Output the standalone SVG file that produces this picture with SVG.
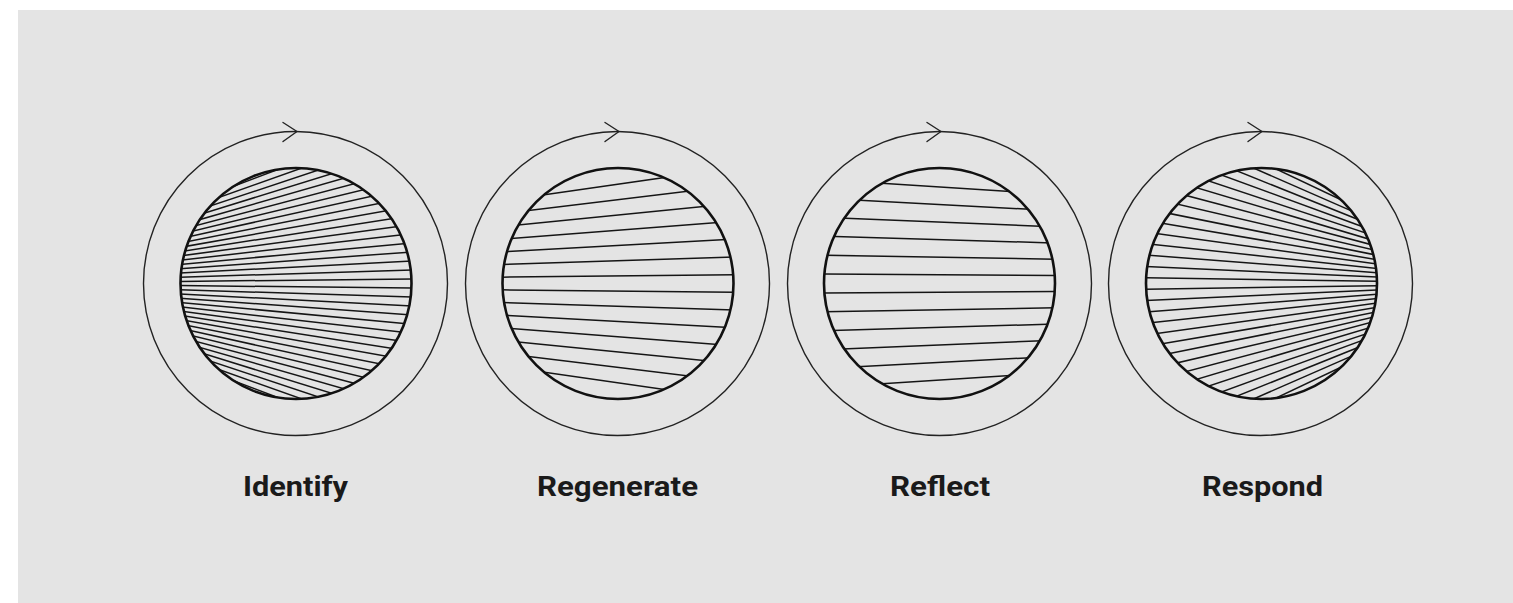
<svg xmlns="http://www.w3.org/2000/svg" width="1513" height="603" viewBox="0 0 1513 603">
<style>
.hatch{stroke:#151515;stroke-width:1.5;fill:none}
.inner{stroke:#111;stroke-width:2.6;fill:none}
.outer{stroke:#222;stroke-width:1.4;fill:none}
.arrow{stroke:#222;stroke-width:1.4;fill:none;stroke-linecap:round;stroke-linejoin:round}
.label{font-family:Roboto,"Liberation Sans",sans-serif;font-weight:bold;font-size:28px;fill:#1a1a1a;text-anchor:middle}
</style>
<defs>
<clipPath id="c1"><circle cx="296" cy="283.5" r="115.5"/></clipPath>
<clipPath id="c2"><circle cx="618" cy="283.5" r="115.5"/></clipPath>
<clipPath id="c3"><circle cx="939.5" cy="283.5" r="115.5"/></clipPath>
<clipPath id="c4"><circle cx="1261.5" cy="283.5" r="115.5"/></clipPath>
<path id="hR1" d="M0 0H460"/>
<path id="hR2" d="M0 0H830"/>
<path id="hL3" d="M0 0H-1650"/>
<path id="hL4" d="M0 0H-400"/>
</defs>
<rect x="18" y="10" width="1495" height="593" fill="#e4e4e4"/>

<g id="node-identify">
<circle class="outer" cx="295.5" cy="283.5" r="152"/>
<path class="arrow" d="M283 122.5L297 131.5L283 141.5"/>
<g clip-path="url(#c1)">
<g class="hatch" transform="translate(-23 283.5)">
<use href="#hR1" transform="rotate(0.593)"/><use href="#hR1" transform="rotate(-0.593)"/>
<use href="#hR1" transform="rotate(1.779)"/><use href="#hR1" transform="rotate(-1.779)"/>
<use href="#hR1" transform="rotate(2.965)"/><use href="#hR1" transform="rotate(-2.965)"/>
<use href="#hR1" transform="rotate(4.151)"/><use href="#hR1" transform="rotate(-4.151)"/>
<use href="#hR1" transform="rotate(5.337)"/><use href="#hR1" transform="rotate(-5.337)"/>
<use href="#hR1" transform="rotate(6.523)"/><use href="#hR1" transform="rotate(-6.523)"/>
<use href="#hR1" transform="rotate(7.709)"/><use href="#hR1" transform="rotate(-7.709)"/>
<use href="#hR1" transform="rotate(8.895)"/><use href="#hR1" transform="rotate(-8.895)"/>
<use href="#hR1" transform="rotate(10.081)"/><use href="#hR1" transform="rotate(-10.081)"/>
<use href="#hR1" transform="rotate(11.267)"/><use href="#hR1" transform="rotate(-11.267)"/>
<use href="#hR1" transform="rotate(12.453)"/><use href="#hR1" transform="rotate(-12.453)"/>
<use href="#hR1" transform="rotate(13.639)"/><use href="#hR1" transform="rotate(-13.639)"/>
<use href="#hR1" transform="rotate(14.825)"/><use href="#hR1" transform="rotate(-14.825)"/>
<use href="#hR1" transform="rotate(16.011)"/><use href="#hR1" transform="rotate(-16.011)"/>
<use href="#hR1" transform="rotate(17.197)"/><use href="#hR1" transform="rotate(-17.197)"/>
<use href="#hR1" transform="rotate(18.383)"/><use href="#hR1" transform="rotate(-18.383)"/>
<use href="#hR1" transform="rotate(19.569)"/><use href="#hR1" transform="rotate(-19.569)"/>
<use href="#hR1" transform="rotate(20.755)"/><use href="#hR1" transform="rotate(-20.755)"/>
</g>
</g>
<circle class="inner" cx="296" cy="283.5" r="115.5"/>
<text class="label" x="295.5" y="496" textLength="105" lengthAdjust="spacingAndGlyphs">Identify</text>
</g>

<g id="node-regenerate">
<circle class="outer" cx="617.5" cy="283.5" r="152"/>
<path class="arrow" d="M605 122.5L619 131.5L605 141.5"/>
<g clip-path="url(#c2)">
<g class="hatch" transform="translate(-72 283.5)">
<use href="#hR2" transform="rotate(0.63)"/><use href="#hR2" transform="rotate(-0.63)"/>
<use href="#hR2" transform="rotate(1.89)"/><use href="#hR2" transform="rotate(-1.89)"/>
<use href="#hR2" transform="rotate(3.15)"/><use href="#hR2" transform="rotate(-3.15)"/>
<use href="#hR2" transform="rotate(4.41)"/><use href="#hR2" transform="rotate(-4.41)"/>
<use href="#hR2" transform="rotate(5.67)"/><use href="#hR2" transform="rotate(-5.67)"/>
<use href="#hR2" transform="rotate(6.93)"/><use href="#hR2" transform="rotate(-6.93)"/>
<use href="#hR2" transform="rotate(8.19)"/><use href="#hR2" transform="rotate(-8.19)"/>
</g>
</g>
<circle class="inner" cx="618" cy="283.5" r="115.5"/>
<text class="label" x="617.5" y="496" textLength="161" lengthAdjust="spacingAndGlyphs">Regenerate</text>
</g>

<g id="node-reflect">
<circle class="outer" cx="939.5" cy="283.5" r="152"/>
<path class="arrow" d="M927 122.5L941 131.5L927 141.5"/>
<g clip-path="url(#c3)">
<g class="hatch" transform="translate(2439.5 283.5)">
<use href="#hL3" transform="rotate(0.335)"/><use href="#hL3" transform="rotate(-0.335)"/>
<use href="#hL3" transform="rotate(1.005)"/><use href="#hL3" transform="rotate(-1.005)"/>
<use href="#hL3" transform="rotate(1.675)"/><use href="#hL3" transform="rotate(-1.675)"/>
<use href="#hL3" transform="rotate(2.345)"/><use href="#hL3" transform="rotate(-2.345)"/>
<use href="#hL3" transform="rotate(3.015)"/><use href="#hL3" transform="rotate(-3.015)"/>
<use href="#hL3" transform="rotate(3.685)"/><use href="#hL3" transform="rotate(-3.685)"/>
</g>
</g>
<circle class="inner" cx="939.5" cy="283.5" r="115.5"/>
<text class="label" x="940" y="496" textLength="100" lengthAdjust="spacingAndGlyphs">Reflect</text>
</g>

<g id="node-respond">
<circle class="outer" cx="1260.5" cy="283.5" r="152"/>
<path class="arrow" d="M1248 122.5L1262 131.5L1248 141.5"/>
<g clip-path="url(#c4)">
<g class="hatch" transform="translate(1517.5 283.5)">
<use href="#hL4" transform="rotate(0.875)"/><use href="#hL4" transform="rotate(-0.875)"/>
<use href="#hL4" transform="rotate(2.625)"/><use href="#hL4" transform="rotate(-2.625)"/>
<use href="#hL4" transform="rotate(4.375)"/><use href="#hL4" transform="rotate(-4.375)"/>
<use href="#hL4" transform="rotate(6.125)"/><use href="#hL4" transform="rotate(-6.125)"/>
<use href="#hL4" transform="rotate(7.875)"/><use href="#hL4" transform="rotate(-7.875)"/>
<use href="#hL4" transform="rotate(9.625)"/><use href="#hL4" transform="rotate(-9.625)"/>
<use href="#hL4" transform="rotate(11.375)"/><use href="#hL4" transform="rotate(-11.375)"/>
<use href="#hL4" transform="rotate(13.125)"/><use href="#hL4" transform="rotate(-13.125)"/>
<use href="#hL4" transform="rotate(14.875)"/><use href="#hL4" transform="rotate(-14.875)"/>
<use href="#hL4" transform="rotate(16.625)"/><use href="#hL4" transform="rotate(-16.625)"/>
<use href="#hL4" transform="rotate(18.375)"/><use href="#hL4" transform="rotate(-18.375)"/>
<use href="#hL4" transform="rotate(20.125)"/><use href="#hL4" transform="rotate(-20.125)"/>
<use href="#hL4" transform="rotate(21.875)"/><use href="#hL4" transform="rotate(-21.875)"/>
<use href="#hL4" transform="rotate(23.625)"/><use href="#hL4" transform="rotate(-23.625)"/>
<use href="#hL4" transform="rotate(25.375)"/><use href="#hL4" transform="rotate(-25.375)"/>
</g>
</g>
<circle class="inner" cx="1261.5" cy="283.5" r="115.5"/>
<text class="label" x="1262.5" y="496" textLength="121" lengthAdjust="spacingAndGlyphs">Respond</text>
</g>

<g id="connectors"></g>
</svg>
